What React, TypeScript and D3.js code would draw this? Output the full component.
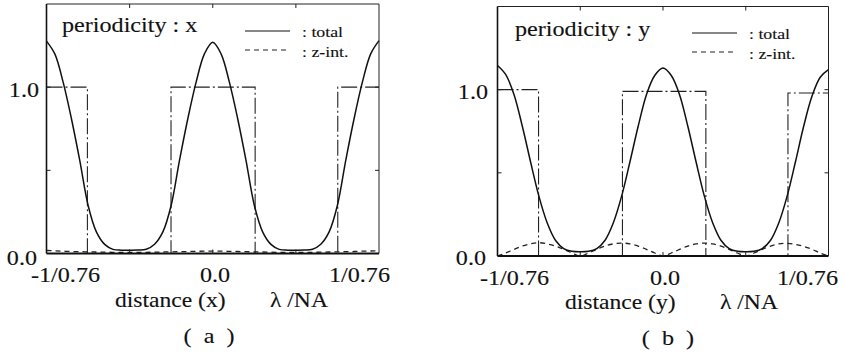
import React from 'react';
import * as d3 from 'd3';

// sample positions, as a fraction of the period (1/0.76 λ/NA)
const samplePos = [
  -1, -0.95, -0.9, -0.85, -0.8, -0.75, -0.7, -0.65, -0.6, -0.55, -0.5,
  -0.45, -0.4, -0.35, -0.3, -0.25, -0.2, -0.15, -0.1, -0.05, 0,
  0.05, 0.1, 0.15, 0.2, 0.25, 0.3, 0.35, 0.4, 0.45, 0.5,
  0.55, 0.6, 0.65, 0.7, 0.75, 0.8, 0.85, 0.9, 0.95, 1,
];

// (a) periodicity : x
const totalA = [
  1.277, 1.2, 1.03, 0.81, 0.56, 0.29, 0.13, 0.055, 0.025, 0.02, 0.02,
  0.021, 0.026, 0.056, 0.13, 0.29, 0.56, 0.81, 1.03, 1.2, 1.27,
  1.2, 1.03, 0.81, 0.56, 0.29, 0.13, 0.055, 0.025, 0.02, 0.02,
  0.021, 0.026, 0.056, 0.13, 0.29, 0.56, 0.81, 1.03, 1.2, 1.28,
];
const zintA = [
  0.018, 0.016, 0.014, 0.012, 0.011, 0.01, 0.009, 0.008, 0.007, 0.006, 0.006,
  0.006, 0.007, 0.008, 0.009, 0.01, 0.011, 0.012, 0.013, 0.014, 0.014,
  0.014, 0.013, 0.012, 0.011, 0.01, 0.009, 0.008, 0.007, 0.006, 0.006,
  0.006, 0.007, 0.008, 0.009, 0.01, 0.011, 0.012, 0.014, 0.015, 0.016,
];
const maskEdgesA = [-1, -0.754, -0.251, 0.255, 0.752, 1];
const maskLevelsA = [1.0, 0, 1.0, 0, 1.0, 1.0];

// (b) periodicity : y
const totalB = [
  1.145, 1.09, 0.97, 0.78, 0.565, 0.36, 0.2, 0.095, 0.045, 0.028, 0.025,
  0.028, 0.045, 0.095, 0.2, 0.36, 0.565, 0.78, 0.97, 1.085, 1.13,
  1.085, 0.97, 0.78, 0.565, 0.36, 0.2, 0.095, 0.045, 0.028, 0.025,
  0.028, 0.045, 0.095, 0.2, 0.36, 0.565, 0.78, 0.96, 1.075, 1.12,
];
const zintB = [
  0, 0.018, 0.04, 0.06, 0.073, 0.08, 0.073, 0.06, 0.04, 0.018, 0,
  0.018, 0.04, 0.06, 0.073, 0.078, 0.073, 0.06, 0.04, 0.018, 0,
  0.018, 0.04, 0.06, 0.073, 0.078, 0.073, 0.06, 0.04, 0.018, 0,
  0.018, 0.04, 0.06, 0.073, 0.076, 0.07, 0.058, 0.04, 0.018, 0,
];
const maskEdgesB = [-1, -0.752, -0.245, 0.259, 0.755, 1];
const maskLevelsB = [1.0, 0, 0.99, 0, 0.98, 0.98];

const period = 1 / 0.76;
const xTicks = [-1, -0.5, 0, 0.5, 1];
const yTicks = [0.5, 1.0];

const SERIF = '"Liberation Serif", "Times New Roman", serif';
const SX = 1.15; // the scan is a bit wider than tall

function T({ x, y, size, anchor = 'start', children }: any) {
  return (
    <text
      transform={`translate(${x},${y}) scale(${SX},1)`}
      fontFamily={SERIF}
      fontSize={size}
      textAnchor={anchor}
      fill="#111"
      stroke="#111"
      strokeWidth={0.12}
    >
      {children}
    </text>
  );
}

interface PanelProps {
  left: number;
  right: number;
  top: number;
  bottom: number;
  total: number[];
  zint: number[];
  edges: number[];
  levels: number[];
  axis: string;
  tag: string;
  text: any;
}

function Panel({ left, right, top, bottom, total, zint, edges, levels, axis, tag, text }: PanelProps) {
  const x = d3.scaleLinear().domain([-period, period]).range([left, right]);
  const y = d3.scaleLinear().domain([0, 1.5]).range([bottom, top]);

  const line = d3
    .line<[number, number]>()
    .x((d) => x(d[0] * period))
    .y((d) => y(d[1]))
    .curve(d3.curveCatmullRom.alpha(0.5));

  const totalPts = samplePos.map((p, i) => [p, total[i]] as [number, number]);
  const zintPts = samplePos.map((p, i) => [p, zint[i]] as [number, number]);
  const maskPts = edges.map((e, i) => [e, levels[i]] as [number, number]);

  const step = d3
    .line<[number, number]>()
    .x((d) => x(d[0] * period))
    .y((d) => y(d[1]))
    .curve(d3.curveStepAfter);

  return (
    <g>
      {/* mask profile */}
      <path d={step(maskPts) as string} fill="none" stroke="#222" strokeWidth={1.1} strokeDasharray="16,3,2,3" />
      {/* z-int */}
      <path d={line(zintPts) as string} fill="none" stroke="#222" strokeWidth={1.3} strokeDasharray="5,4" />
      {/* total */}
      <path d={line(totalPts) as string} fill="none" stroke="#111" strokeWidth={1.5} />

      {/* frame */}
      <line x1={left} x2={right} y1={top} y2={top} stroke="#222" strokeWidth={1} />
      <line x1={right} x2={right} y1={top} y2={bottom} stroke="#222" strokeWidth={1} />
      <line x1={left} x2={left} y1={top} y2={bottom} stroke="#111" strokeWidth={1.6} />
      <line x1={left} x2={right} y1={bottom} y2={bottom} stroke="#111" strokeWidth={1.8} />

      {xTicks.slice(1, -1).map((t) => (
        <g key={t}>
          <line x1={x(t * period)} x2={x(t * period)} y1={bottom} y2={bottom - 4} stroke="#222" />
          <line x1={x(t * period)} x2={x(t * period)} y1={top} y2={top + 4} stroke="#222" />
        </g>
      ))}
      {yTicks.map((t) => (
        <g key={t}>
          <line x1={left} x2={left + 4} y1={y(t)} y2={y(t)} stroke="#222" />
          <line x1={right} x2={right - 4} y1={y(t)} y2={y(t)} stroke="#222" />
        </g>
      ))}

      {/* legend */}
      <line x1={text.legX} x2={text.legX + 45} y1={text.legY} y2={text.legY} stroke="#111" strokeWidth={1.2} />
      <line x1={text.legX} x2={text.legX + 45} y1={text.legY + 19} y2={text.legY + 19} stroke="#222" strokeWidth={1.2} strokeDasharray="5,4" />
      <T x={text.legX + 57} y={text.legY + 6} size={15.5}>: total</T>
      <T x={text.legX + 57} y={text.legY + 26} size={15.5}>: z-int.</T>

      <T x={text.titleX} y={text.titleY} size={21}>periodicity : {axis}</T>
      <T x={text.yLabX} y={text.y1Y} size={21} anchor="end">1.0</T>
      <T x={text.yLabX - 2} y={text.y0Y} size={21} anchor="end">0.0</T>
      <T x={text.xLeft} y={text.xLabY} size={21}>-1/0.76</T>
      <T x={text.xMid} y={text.xLabY} size={21} anchor="middle">0.0</T>
      <T x={text.xRight} y={text.xLabY} size={21} anchor="end">1/0.76</T>
      <T x={text.distX} y={text.distY} size={20.5}>distance ({axis})</T>
      <T x={text.distX + 155} y={text.distY} size={20.5}>λ /NA</T>
      <T x={text.tagX} y={text.tagY} size={21} anchor="middle">{`(\u00a0\u00a0${tag}\u00a0\u00a0)`}</T>
    </g>
  );
}

export default function App() {
  return (
    <svg
      width={843}
      height={355}
      style={{ position: 'absolute', left: 0, top: 0, background: '#fff' }}
    >
      <Panel
        left={46.5}
        right={379}
        top={4}
        bottom={253.5}
        total={totalA}
        zint={zintA}
        edges={maskEdgesA}
        levels={maskLevelsA}
        axis="x"
        tag="a"
        text={{
          legX: 245, legY: 31, titleX: 62, titleY: 32,
          yLabX: 39, y1Y: 97, y0Y: 265,
          xLeft: 31, xMid: 215, xRight: 390, xLabY: 282,
          distX: 115, distY: 307, tagX: 209, tagY: 343,
        }}
      />
      <Panel
        left={497.5}
        right={828.5}
        top={6.5}
        bottom={256}
        total={totalB}
        zint={zintB}
        edges={maskEdgesB}
        levels={maskLevelsB}
        axis="y"
        tag="b"
        text={{
          legX: 692, legY: 33, titleX: 515, titleY: 36,
          yLabX: 488, y1Y: 99, y0Y: 265,
          xLeft: 480, xMid: 665, xRight: 838, xLabY: 285,
          distX: 565, distY: 309, tagX: 668, tagY: 345,
        }}
      />
    </svg>
  );
}
